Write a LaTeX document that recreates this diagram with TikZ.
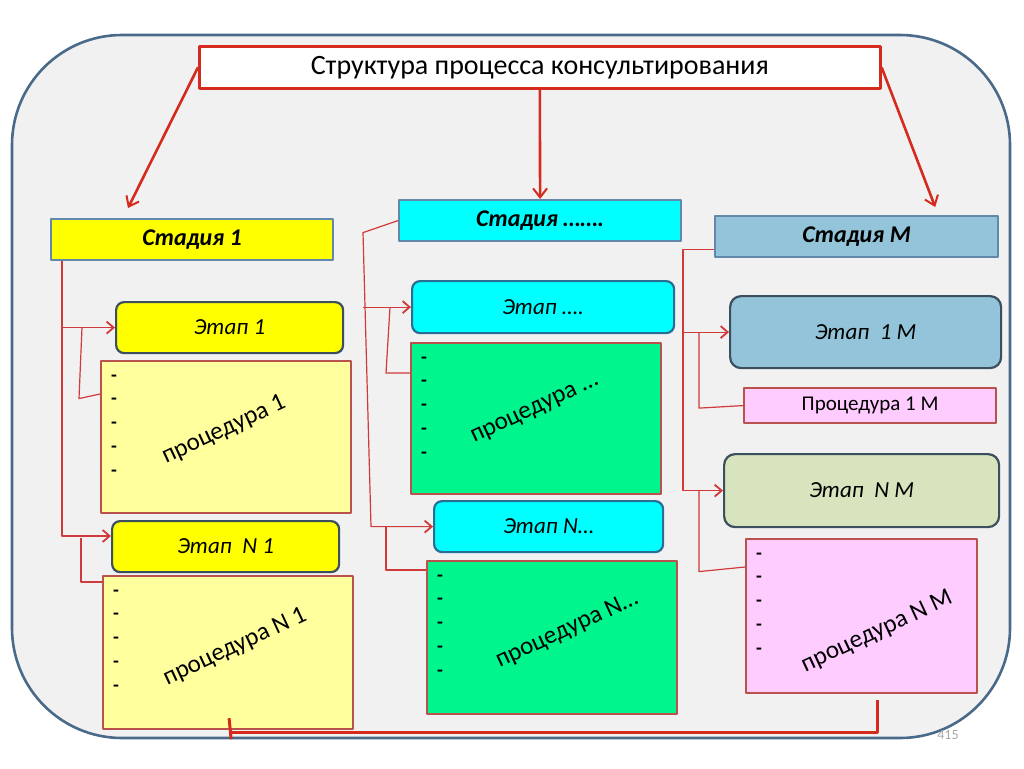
\documentclass[tikz,border=0pt]{standalone}
\usepackage{fontspec}
\setmainfont{Carlito}
\usetikzlibrary{arrows.meta,calc}
\definecolor{framebg}{HTML}{F1F1F1}
\definecolor{frameln}{HTML}{4A6A8A}
\definecolor{redln}{HTML}{D52B1E}
\definecolor{connln}{HTML}{D03A3A}
\definecolor{stageln}{HTML}{6288AC}
\definecolor{etapln}{HTML}{3C4F5E}
\definecolor{cynln}{HTML}{2A6E96}
\definecolor{procln}{HTML}{B9524C}
\definecolor{yel}{HTML}{FFFF00}
\definecolor{ltyel}{HTML}{FFFF9E}
\definecolor{cyn}{HTML}{00FFFF}
\definecolor{grn}{HTML}{00F58C}
\definecolor{ltblue}{HTML}{93C4D9}
\definecolor{ltgrn}{HTML}{D7E4BD}
\definecolor{pnk}{HTML}{FFCCFF}
\begin{document}
\begin{tikzpicture}[x=1pt,y=-1pt,line join=round,
 big/.style={draw=redln,line width=2.6pt,-{Straight Barb[length=9pt,width=14pt,line width=2pt]}},
 conn/.style={draw=connln,line width=1.2pt},
 tip/.style={-{Straight Barb[length=7pt,width=12pt,line width=1.8pt]}},
 bline/.style={draw=redln,line width=3pt},
 stagebox/.style={draw=stageln,line width=2.2pt,anchor=north west,minimum height=41,
  font=\fontsize{24}{28}\selectfont\bfseries\itshape},
 etapbox/.style={draw=etapln,line width=2.2pt,rounded corners=8,anchor=north west,
  font=\fontsize{23}{26}\selectfont\itshape},
 procbox/.style={draw=procln,line width=2.2pt,anchor=north west},
 proctext/.style={rotate=25,font=\fontsize{25}{28}\selectfont},
 dashmark/.style={font=\fontsize{19}{20}\selectfont\bfseries,inner sep=0pt}]
\useasboundingbox (0,0) rectangle (1024,768);
\draw[draw=frameln,fill=framebg,line width=2.6pt,rounded corners=110] (12,35) rectangle (1010,738);
% title
\node[draw=redln,line width=2.6pt,fill=white,anchor=north west,minimum width=681,minimum height=42,
 font=\fontsize{28}{32}\selectfont] (title) at (198,45) {Структура процесса консультирования};
% stages
\node[stagebox,fill=yel,minimum width=282] (s1) at (50,218) {Стадия 1};
\node[stagebox,fill=cyn,minimum width=282] (s2) at (398,199) {Стадия …….};
\node[stagebox,fill=ltblue,minimum width=283] (s3) at (714,215) {Стадия М};
% steps
\node[etapbox,fill=yel,minimum width=227,minimum height=51] (e11) at (115,301) {Этап 1};
\node[etapbox,fill=yel,minimum width=227,minimum height=51] (e1n) at (111,520) {Этап\ \ N 1};
\node[etapbox,draw=cynln,fill=cyn,minimum width=262,minimum height=52] (e21) at (411,280) {Этап ….};
\node[etapbox,draw=cynln,fill=cyn,minimum width=229,minimum height=51] (e2n) at (433,500) {Этап N…};
\node[etapbox,fill=ltblue,minimum width=271,minimum height=72,rounded corners=11] (e31) at (729,295) {Этап\ \ 1 М};
\node[etapbox,fill=ltgrn,minimum width=275,minimum height=73,rounded corners=11] (e3n) at (723,453) {Этап\ \ N М};
% procedures
\node[procbox,fill=ltyel,minimum width=250,minimum height=152] (p11) at (100,360) {};
\node[procbox,fill=ltyel,minimum width=250,minimum height=153] (p1n) at (102,575) {};
\node[procbox,fill=grn,minimum width=250,minimum height=151] (p21) at (410,342) {};
\node[procbox,fill=grn,minimum width=250,minimum height=153] (p2n) at (426,560) {};
\node[procbox,fill=pnk,minimum width=252,minimum height=35,font=\fontsize{21}{24}\selectfont] (p31) at (743,387) {Процедура 1 М};
\node[procbox,fill=pnk,minimum width=231,minimum height=154] (p3n) at (745,538) {};
\foreach \p in {p11,p1n,p21,p2n,p3n}
 \foreach \i in {0,...,4}
  \node[dashmark] (\p-d\i) at ($(\p.north west)+(14,18+23.7*\i)$) {-};
\node[proctext] (t11) at (224,430) {процедура 1};
\node[proctext] (t1n) at (235,647) {процедура N 1};
\node[proctext] (t21) at (535,410) {процедура …};
\node[proctext] (t2n) at (567,630) {процедура N…};
\node[proctext] (t3n) at (877,632) {процедура N М};
% arrows from the title
\draw[big] (title.west) -- ($(s1.north west)+(78,-10)$);
\draw[big] (title.south) -- (s2.north);
\draw[big] (title.east) -- ($(s3.north east)+(-64,-8)$);
% stage 1
\coordinate (k1) at ($(s1.south west)+(12,0)$);
\draw[conn,tip] (k1) |- ($(e1n.north west)+(0,16)$);
\draw[conn,tip] (k1 |- e11.west) -- (e11.west);
\draw[conn] ($(k1 |- e11.west)+(20,0)$) -- ++(-3,71) -- ($(p11.north west)+(0,34)$);
\draw[conn] ($(k1)+(19,277)$) |- ($(p1n.north west)+(0,7)$);
% stage ...
\coordinate (k2) at ($(s2.west)+(-35,12)$);
\draw[conn,tip] (s2.west) -- (k2) -- ($(e2n.west)+(-62,0)$) -- (e2n.west);
\draw[conn,tip] (k2 |- e21.west) -- (e21.west);
\draw[conn] ($(k2 |- e21.west)+(27,0)$) -- ++(-4,66) -- ($(p21.north west)+(0,31)$);
\draw[conn] ($(e2n.west)+(-47,0)$) |- ($(p2n.north west)+(0,10)$);
% stage M
\coordinate (k3) at ($(s3.south west)+(-31,-9)$);
\draw[conn,tip] ($(s3.south west)+(0,-9)$) -- (k3) |- (e3n.west);
\draw[conn,tip] (k3 |- e31.west) -- (e31.west);
\draw[conn] ($(k3 |- e31.west)+(16,0)$) -- ++(0,76) -- (p31.west);
\draw[conn] ($(e3n.west)+(-24,0)$) -- ++(0,81) -- ($(p3n.north west)+(0,29)$);
% bottom line
\draw[bline] ($(p1n.south)+(1,-12)$) -- ($(p1n.south)+(3,9)$);
\draw[bline] ($(p1n.south)+(3,2)$) -| ($(p3n.south)+(16,6)$);
\node[text=gray!70,font=\fontsize{14}{15}\selectfont] (pg) at (948,735) {415};
\end{tikzpicture}
\end{document}
